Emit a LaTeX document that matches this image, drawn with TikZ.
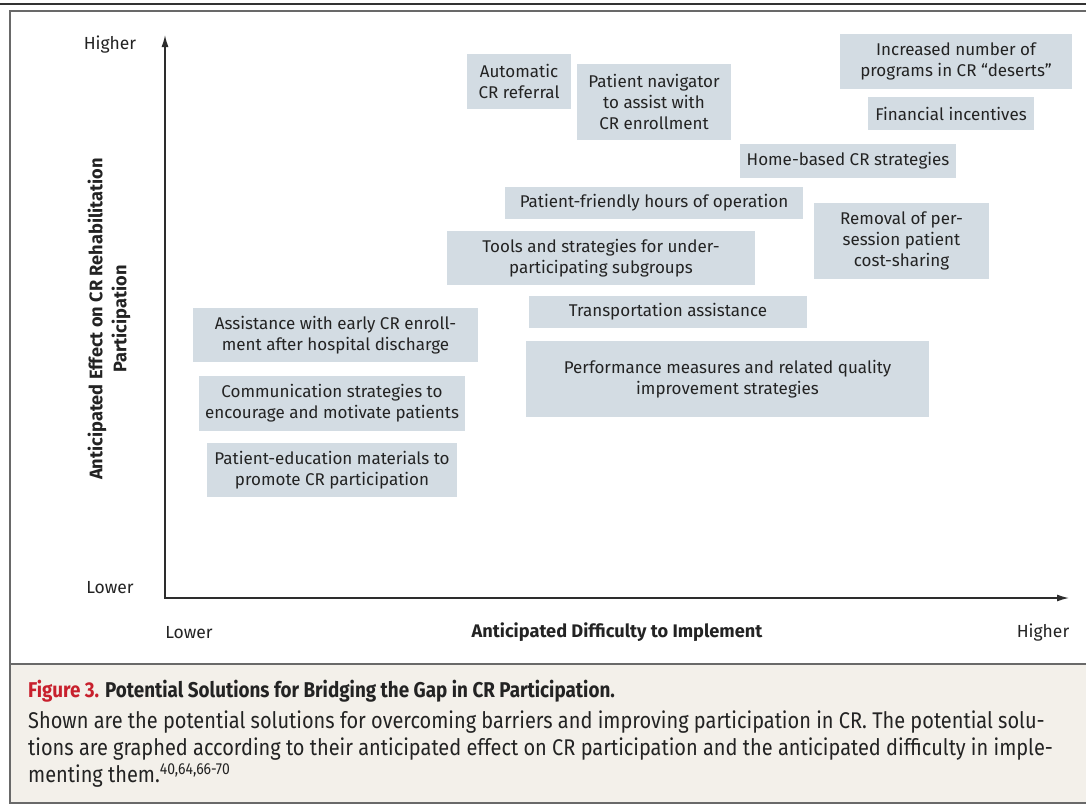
\documentclass[tikz,border=0pt]{standalone}
\usepackage{fontspec}
\setmainfont{Fira Sans}
\newfontfamily\capfont[FakeStretch=0.88]{Fira Sans}
\usetikzlibrary{arrows.meta}
\definecolor{boxfill}{RGB}{211,220,227}
\definecolor{capbg}{RGB}{243,240,234}
\definecolor{figred}{RGB}{200,32,45}
\definecolor{axisc}{RGB}{45,45,45}
\definecolor{framec}{RGB}{105,105,105}
\definecolor{txt}{RGB}{35,35,35}
\begin{document}
\begin{tikzpicture}[x=1pt,y=-1pt,
  box/.style={fill=boxfill, inner sep=0pt, align=center, text=txt,
    font=\fontsize{17}{21}\selectfont},
  axislbl/.style={text=txt, font=\fontsize{17.5}{21}\selectfont},
  axistitle/.style={text=txt, font=\bfseries\fontsize{18.2}{24}\selectfont, align=center},
  axisline/.style={draw=axisc, line width=1.4pt, {Latex[length=12pt,width=7pt]}-{Latex[length=12pt,width=7pt]}},
  capline/.style={anchor=base west, inner sep=0pt, text=txt, font=\capfont\fontsize{22.7}{27}\selectfont}
]
\useasboundingbox (0,0) rectangle (1086,806);
% frame
\fill[capbg] (10,664) rectangle (1090,803);
\draw[framec, line width=1.5pt] (10,11) rectangle (1092,803);
\draw[framec, line width=1.5pt] (10,664) -- (1092,664);
\draw[black!80, line width=2pt] (0,4) -- (1086,4);

% axes
\coordinate (o) at (165,598);
\coordinate (ytop) at (165,35);
\coordinate (xend) at (1069,598);
\draw[axisline] (ytop) -- (o) -- (xend);
\node[axislbl] (yhi) at (110,45) {Higher};
\node[axislbl] (ylo) at (110,588) {Lower};
\node[axislbl] (xlo) at (189,633) {Lower};
\node[axislbl] (xhi) at (1043,633) {Higher};
\node[axistitle] (xtitle) at (617,632) {Anticipated Difficulty to Implement};
\node[axistitle, rotate=90] (ytitle) at (109,319) {Anticipated Effect on CR Rehabilitation\\Participation};

% boxes
\node[box, minimum width=104pt, minimum height=55pt] (b1) at (519,81.5) {Automatic\\CR referral};
\node[box, minimum width=154pt, minimum height=76pt] (b2) at (654,102) {Patient navigator\\to assist with\\CR enrollment};
\node[box, minimum width=232pt, minimum height=55pt] (b3) at (956,61.5) {Increased number of\\programs in CR \char"201C deserts\char"201D};
\node[box, minimum width=166pt, minimum height=33pt] (b4) at (951,113.5) {Financial incentives};
\node[box, minimum width=216pt, minimum height=34pt] (b5) at (848,161) {Home-based CR strategies};
\node[box, minimum width=298pt, minimum height=32pt] (b6) at (654,203) {Patient-friendly hours of operation};
\node[box, minimum width=175pt, minimum height=76pt] (b7) at (901.5,241) {Removal of per-\\session patient\\cost-sharing};
\node[box, minimum width=308pt, minimum height=54pt] (b8) at (601,258) {Tools and strategies for under-\\participating subgroups};
\node[box, minimum width=278pt, minimum height=32pt] (b9) at (668,312) {Transportation assistance};
\node[box, minimum width=403pt, minimum height=76pt] (b10) at (727.5,379) {Performance measures and related quality\\improvement strategies};
\node[box, minimum width=285pt, minimum height=54pt] (b11) at (335.5,335) {Assistance with early CR enroll-\\ment after hospital discharge};
\node[box, minimum width=266pt, minimum height=55pt] (b12) at (332,403.5) {Communication strategies to\\encourage and motivate patients};
\node[box, minimum width=250pt, minimum height=54pt] (b13) at (332,470) {Patient-education materials to\\promote CR participation};

% caption
\node[capline, font=\capfont\bfseries\fontsize{21.4}{27}\selectfont] (cap0) at (28,697) {\textcolor{figred}{Figure 3.} Potential Solutions for Bridging the Gap in CR Participation.};
\node[capline] (cap1) at (28,728) {Shown are the potential solutions for overcoming barriers and improving participation in CR. The potential solu-};
\node[capline] (cap2) at (28,755) {tions are graphed according to their anticipated effect on CR participation and the anticipated difficulty in imple-};
\node[capline] (cap3) at (28,782) {menting them.\textsuperscript{40,64,66-70}};
\end{tikzpicture}
\end{document}
